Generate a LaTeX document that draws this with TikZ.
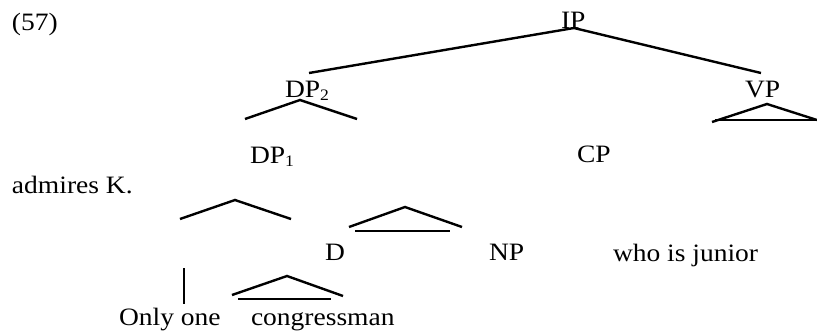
\documentclass[tikz,border=0pt]{standalone}
\usepackage{fontspec}
\setmainfont{Liberation Serif}[FakeStretch=1.1]
\begin{document}
\begin{tikzpicture}[x=1pt,y=-1pt,
  lbl/.style={anchor=base west,inner sep=0pt,outer sep=0pt,font=\fontsize{25}{27}\selectfont},
  br/.style={line width=2.4pt}]
\newcommand{\sbx}[1]{\raisebox{-3pt}{\fontsize{16}{16}\selectfont #1}}
\useasboundingbox (0,0) rectangle (817,333);
% labels
\node[lbl] (ex) at (12,30) {(57)};
\node[lbl] (ip) at (561,28) {IP};
\node[lbl] (dp2) at (285,97) {DP\sbx{2}};
\node[lbl] (vp) at (745,97) {VP};
\node[lbl] (dp1) at (250,163) {DP\sbx{1}};
\node[lbl] (cp) at (577,162) {CP};
\node[lbl] (adm) at (12,193) {admires K.};
\node[lbl] (d) at (325,260) {D};
\node[lbl] (np) at (489,260) {NP};
\node[lbl] (wij) at (613,261) {who is junior};
\node[lbl] (only) at (119,325) {Only one};
\node[lbl] (cong) at (251,325) {congressman};
% connector end points
\coordinate (ipfoot) at (574,28);
\coordinate (dp2top) at (309,73);
\coordinate (vptop) at (761,73);
\draw[br] (dp2top) -- (ipfoot) -- (vptop);
% DP2 branches
\coordinate (a1) at (300,100);
\coordinate (a1l) at (245,119);
\coordinate (a1r) at (357,119);
\draw[br] (a1l) -- (a1) -- (a1r);
% VP triangle
\coordinate (t1) at (767,104);
\coordinate (t1l) at (712,122);
\coordinate (t1r) at (817,120);
\coordinate (t1bl) at (715,120);
\draw[br] (t1l) -- (t1) -- (t1r);
\draw[br] (t1bl) -- (t1r);
% chevron
\coordinate (c1) at (235,200);
\coordinate (c1l) at (180,219);
\coordinate (c1r) at (291,219);
\draw[br] (c1l) -- (c1) -- (c1r);
% triangle over D
\coordinate (t2) at (405,207);
\coordinate (t2l) at (349,227);
\coordinate (t2r) at (462,227);
\coordinate (t2bl) at (355,231);
\coordinate (t2br) at (450,231);
\draw[br] (t2l) -- (t2) -- (t2r);
\draw[br] (t2bl) -- (t2br);
% vertical line
\coordinate (v1) at (184,268);
\coordinate (v2) at (184,304);
\draw[br] (v1) -- (v2);
% triangle over congressman
\coordinate (t3) at (287,276);
\coordinate (t3l) at (232,295);
\coordinate (t3r) at (343,296);
\coordinate (t3bl) at (238,299);
\coordinate (t3br) at (331,299);
\draw[br] (t3l) -- (t3) -- (t3r);
\draw[br] (t3bl) -- (t3br);
\end{tikzpicture}
\end{document}
